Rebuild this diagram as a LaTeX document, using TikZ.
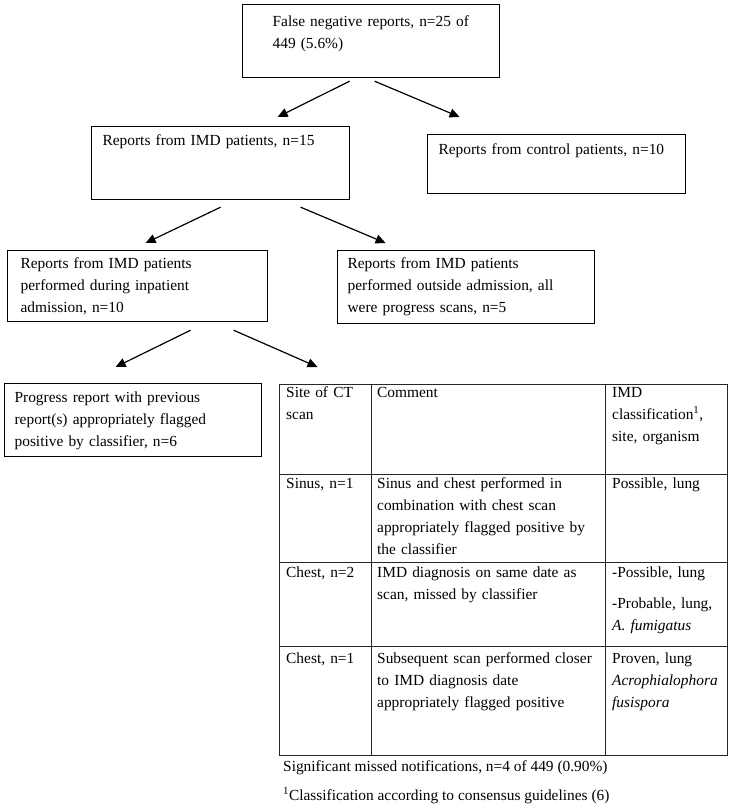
\documentclass[tikz,border=0pt]{standalone}
\usepackage{fontspec}
\setmainfont{Liberation Serif}
\usetikzlibrary{arrows.meta}

\begin{document}
\begin{tikzpicture}[x=1pt, y=-1pt]
	\tikzstyle{panel}=[rectangle, draw, line width=1.2pt, anchor=north west,
	align=left, inner ysep=0pt, font=\fontsize{15.4pt}{22pt}\selectfont]
	\tikzstyle{cell}=[anchor=base west, align=left, inner sep=0pt,
	font=\fontsize{15.4pt}{22pt}\selectfont]
	\tikzstyle{flow}=[line width=1.2pt, -{Triangle[length=10pt, width=9pt]}]
	\tikzstyle{rule}=[line width=1pt, black!85]

	\useasboundingbox (0,0) rectangle (732,811);

	\node[panel, inner xsep=30pt, text width=197pt, text height=22pt, text depth=51pt]
	at (242,4) (falseneg) {False negative reports, n=25 of\\449 (5.6\%)};
	\node[panel, inner xsep=11pt, text width=236pt, text height=19pt, text depth=54pt]
	at (91,126) (imd) {Reports from IMD patients, n=15};
	\node[panel, inner xsep=11pt, text width=236pt, text height=20pt, text depth=39pt]
	at (427,134) (control) {Reports from control patients, n=10};
	\node[panel, inner xsep=13pt, text width=234pt, text height=18pt, text depth=53pt]
	at (7,250) (inpatient) {Reports from IMD patients\\performed during inpatient\\admission, n=10};
	\node[panel, inner xsep=10pt, text width=237pt, text height=18pt, text depth=55pt]
	at (337,250) (outside) {Reports from IMD patients\\performed outside admission, all\\were progress scans, n=5};
	\node[panel, inner xsep=10pt, text width=237pt, text height=19pt, text depth=54pt]
	at (4,383) (progress) {Progress report with previous\\report(s) appropriately flagged\\positive by classifier, n=6};

	% table of the missed scans
	\node[rectangle, draw, rule, anchor=north west, inner sep=0pt,
	minimum width=448pt, minimum height=371pt] at (279,384) (cttable) {};
	\foreach \x in {371,605}
		\draw[rule] (\x,384) -- (\x,755);
	\foreach \y in {474,562,646}
		\draw[rule] (279,\y) -- (727,\y);

	\node[cell, text width=80pt] at (286,397) (site) {Site of CT\\scan};
	\node[cell, text width=224pt] at (377,397) (comment) {Comment};
	\node[cell, text width=113pt] at (612,397) (imdclass) {IMD\\classification\textsuperscript{1},\\site, organism};

	\node[cell, text width=80pt] at (286,488) (sinus) {Sinus, n=1};
	\node[cell, text width=224pt] at (377,488) (sinusnote) {Sinus and chest performed in\\combination with chest scan\\appropriately flagged positive by\\the classifier};
	\node[cell, text width=113pt] at (612,488) (sinusclass) {Possible, lung};

	\node[cell, text width=80pt] at (286,577) (chesttwo) {Chest, n=2};
	\node[cell, text width=224pt] at (377,577) (chesttwonote) {IMD diagnosis on same date as\\scan, missed by classifier};
	\node[cell, text width=113pt] at (612,577) (chesttwoclass) {-Possible, lung\\[9pt]-Probable, lung,\\\textit{A. fumigatus}};

	\node[cell, text width=80pt] at (286,663) (chestone) {Chest, n=1};
	\node[cell, text width=224pt] at (377,663) (chestonenote) {Subsequent scan performed closer\\to IMD diagnosis date\\appropriately flagged positive};
	\node[cell, text width=113pt] at (612,663) (chestoneclass) {Proven, lung\\\textit{Acrophialophora}\\\textit{fusispora}};

	\node[cell] at (283,771) (missed) {Significant missed notifications, n=4 of 449 (0.90\%)};
	\node[cell] at (283,800) (footnote) {\textsuperscript{1}Classification according to consensus guidelines (6)};

	\draw[flow] ([xshift=-21.5pt, yshift=-3pt]falseneg.south) -- ([xshift=57pt, yshift=9pt]imd.north);
	\draw[flow] ([xshift=3.5pt, yshift=-3pt]falseneg.south) -- ([xshift=-97pt, yshift=17pt]control.north);

	\draw[flow] ([yshift=-7pt]imd.south) -- ([xshift=8pt, yshift=7pt]inpatient.north);
	\draw[flow] ([xshift=80pt, yshift=-7pt]imd.south) -- ([xshift=-80.5pt, yshift=7pt]outside.north);

	\draw[flow] ([xshift=53pt, yshift=-8pt]inpatient.south) -- ([xshift=-17.5pt, yshift=16pt]progress.north);
	\draw[flow] ([xshift=96pt, yshift=-8pt]inpatient.south) -- ([xshift=-186pt, yshift=17pt]cttable.north);

\end{tikzpicture}
\end{document}
